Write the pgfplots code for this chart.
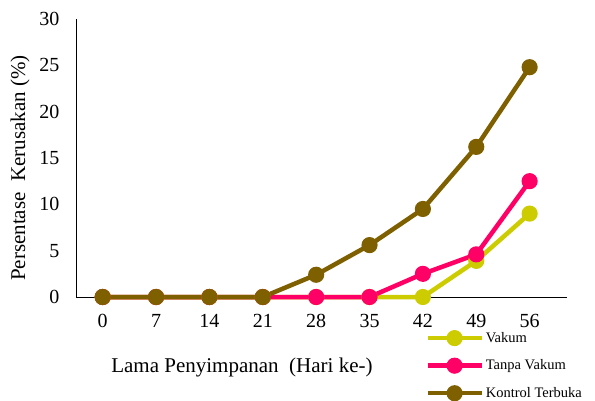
\documentclass[border=0pt]{standalone}
\usepackage{fontspec}
\setmainfont{Liberation Serif}
\usepackage{pgfplots}
\pgfplotsset{compat=1.18}

\definecolor{vakum}{HTML}{CCCC00}
\definecolor{tanpa}{HTML}{FF0066}
\definecolor{kontrol}{HTML}{7F6000}

\begin{document}
\begin{tikzpicture}
\useasboundingbox (-76pt,-103pt) rectangle (519pt,297pt);
\begin{axis}[
    at={(0,0)}, anchor=south west,
    scale only axis,
    width=491pt, height=278pt,
    xmin=-0.5, xmax=8.7,
    ymin=0, ymax=30,
    xtick={0,...,8},
    xticklabels={0,7,14,21,28,35,42,49,56},
    ytick={0,5,...,30},
    axis lines=left,
    axis line style={-, black, line width=0.8pt},
    major tick length=0pt,
    /pgf/number format/assume math mode=true,
    tick label style={font=\fontsize{20}{22}\selectfont},
    xticklabel style={yshift=-14pt},
    yticklabel style={xshift=-13pt},
    label style={font=\fontsize{21}{23}\selectfont},
    xlabel={Lama Penyimpanan\ \ (Hari ke-)},
    xlabel style={at={(axis description cs:0.338,-0.252)}, anchor=center},
    ylabel={Persentase\ \ Kerusakan (\%)},
    ylabel style={at={(axis description cs:-0.114,0.464)}, anchor=center, rotate=0},
    clip=false,
    every axis plot/.append style={line width=4.5pt, mark=*, mark size=5.8pt, mark options={solid}},
    legend style={at={(axis description cs:0.705,-0.112)}, anchor=north west,
        draw=none, fill=none, font=\fontsize{14.5}{16}\selectfont,
        row sep=12pt, legend cell align=left},
    legend image code/.code={
        \draw[#1, mark repeat=2, mark phase=2] plot coordinates {(0pt,0pt) (27pt,0pt) (54pt,0pt)};
    },
]
\addplot[color=vakum] coordinates {
    (0,0) (1,0) (2,0) (3,0) (4,0) (5,0) (6,0) (7,3.9) (8,9.0)};
\addplot[color=tanpa] coordinates {
    (0,0) (1,0) (2,0) (3,0) (4,0) (5,0) (6,2.5) (7,4.6) (8,12.5)};
\addplot[color=kontrol] coordinates {
    (0,0) (1,0) (2,0) (3,0) (4,2.4) (5,5.6) (6,9.5) (7,16.2) (8,24.8)};
\legend{Vakum, Tanpa Vakum, Kontrol Terbuka}
\end{axis}
\end{tikzpicture}
\end{document}
